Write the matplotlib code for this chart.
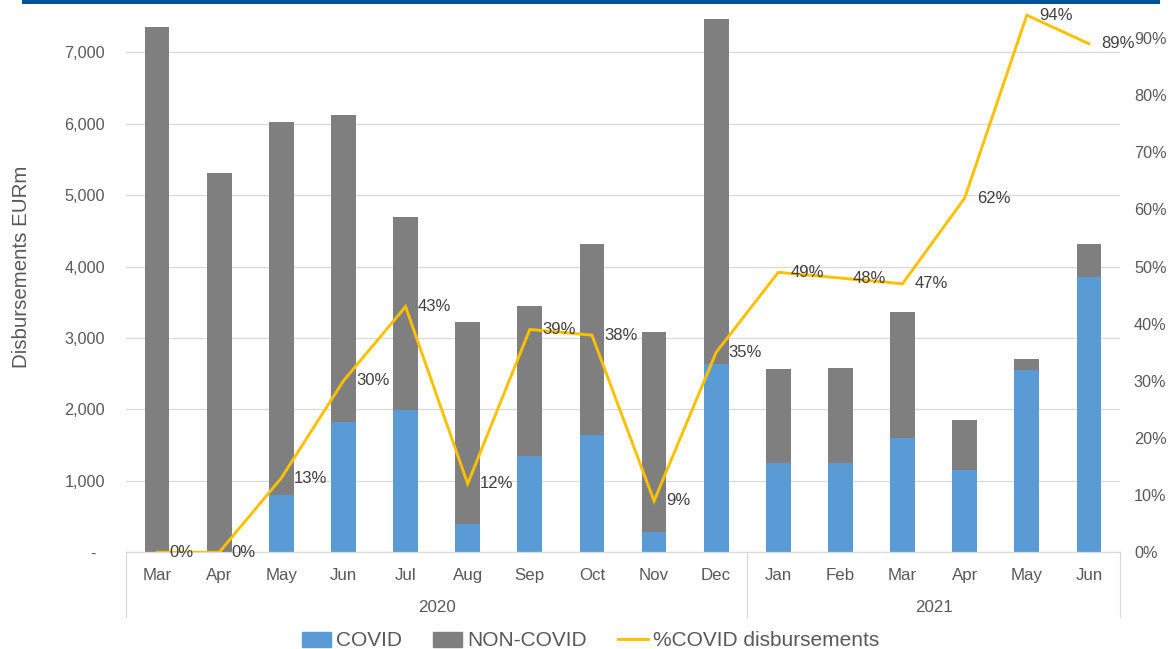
import matplotlib
matplotlib.use("Agg")
import matplotlib.pyplot as plt
from matplotlib.patches import Patch, Rectangle
from matplotlib.lines import Line2D
from matplotlib.transforms import blended_transform_factory

plt.rcParams['font.family'] = ['Liberation Sans', 'DejaVu Sans']

# Monthly disbursements (EUR m), March 2020 - June 2021
months = ["Mar", "Apr", "May", "Jun", "Jul", "Aug", "Sep", "Oct", "Nov", "Dec",
          "Jan", "Feb", "Mar", "Apr", "May", "Jun"]
years = ["2020", "2021"]
months_per_year = [10, 6]
covid = [0, 0, 802, 1824, 1992, 396, 1348, 1642, 280, 2632,
         1250, 1250, 1596, 1152, 2552, 3850]
non_covid = [7350, 5314, 5218, 4294, 2698, 2824, 2104, 2670, 2808, 4830,
             1312, 1330, 1772, 705, 159, 462]
covid_pct = [0, 0, 13, 30, 43, 12, 39, 38, 9, 35, 49, 48, 47, 62, 94, 89]

BLUE = "#5B9BD5"
GREY = "#7F7F7F"
GOLD = "#FFC000"
TICK = "#595959"
LABEL = "#404040"
GRID = "#D9D9D9"

W, H = 1169, 649
fig = plt.figure(figsize=(W / 100, H / 100), dpi=100)
fig.patch.set_facecolor("white")

# header band
fig.add_artist(Rectangle((22 / W, 1 - 4 / H), (1160 - 22) / W, 4 / H,
                         transform=fig.transFigure, color="#00529B", lw=0))

y0 = 552.3
ax = fig.add_axes([126 / W, (H - y0) / H, 994 / W, 571.4 / H])
x = list(range(len(months)))
ax.bar(x, covid, width=0.4, color=BLUE, zorder=2)
ax.bar(x, non_covid, width=0.4, bottom=covid, color=GREY, zorder=2)
ax.set_xlim(-0.5, len(months) - 0.5)
ax.set_ylim(0, 8000)
ax.set_yticks(range(0, 8000, 1000))
ax.set_yticklabels(["-  "] + [f"{v:,}" for v in range(1000, 8000, 1000)])
ax.yaxis.grid(True, color=GRID, lw=0.9)
ax.set_axisbelow(True)
for s in ["top", "right", "left"]:
    ax.spines[s].set_visible(False)
ax.spines["bottom"].set_color(GRID)
ax.spines["bottom"].set_linewidth(0.9)
ax.tick_params(axis="y", length=0, pad=15, labelsize=11.7, labelcolor=TICK)
ax.set_xticks(x)
ax.set_xticklabels(months)
ax.tick_params(axis="x", length=0, pad=11, labelsize=12.2, labelcolor=TICK)
ax.set_ylabel("Disbursements EURm", fontsize=14.8, color=TICK, labelpad=24)

# year group separators and labels
tr = blended_transform_factory(ax.transData, fig.transFigure)
bounds = [-0.5]
for n in months_per_year:
    bounds.append(bounds[-1] + n)
for b in bounds:
    fig.add_artist(Line2D([b, b], [(H - y0) / H, (H - 617) / H], transform=tr,
                          color=GRID, lw=0.9))
for yr, a, b in zip(years, bounds[:-1], bounds[1:]):
    fig.text((a + b) / 2, (H - 607) / H, yr, transform=tr, ha="center",
             va="center", fontsize=12.2, color=TICK)

# share of COVID disbursements on the secondary axis
ax2 = ax.twinx()
ax2.set_ylim(0, 1.0)
ax2.set_yticks([i / 10 for i in range(10)])
ax2.set_yticklabels([f"{i * 10}%" for i in range(10)])
for s in ax2.spines.values():
    s.set_visible(False)
ax2.tick_params(axis="y", length=0, pad=10, labelsize=11.7, labelcolor=TICK)
pct = [p / 100 for p in covid_pct]
ax2.plot(x, pct, color=GOLD, lw=2.1, zorder=3, solid_joinstyle="miter")
for i, p in enumerate(covid_pct):
    ax2.annotate(f"{p}%", (i, p / 100), xytext=(9, 0), textcoords="offset points",
                 ha="left", va="center", fontsize=12, color=LABEL)

handles = [Patch(color=BLUE, label="COVID"),
           Patch(color=GREY, label="NON-COVID"),
           Line2D([], [], color=GOLD, lw=2.1, label="%COVID disbursements")]
fig.legend(handles=handles, loc="center", bbox_to_anchor=(0.505, (H - 641) / H),
           ncol=3, frameon=False, fontsize=15, labelcolor=TICK,
           handlelength=1.4, handleheight=0.7, columnspacing=1.5, handletextpad=0.25)

fig.savefig("out.png", dpi=100)
